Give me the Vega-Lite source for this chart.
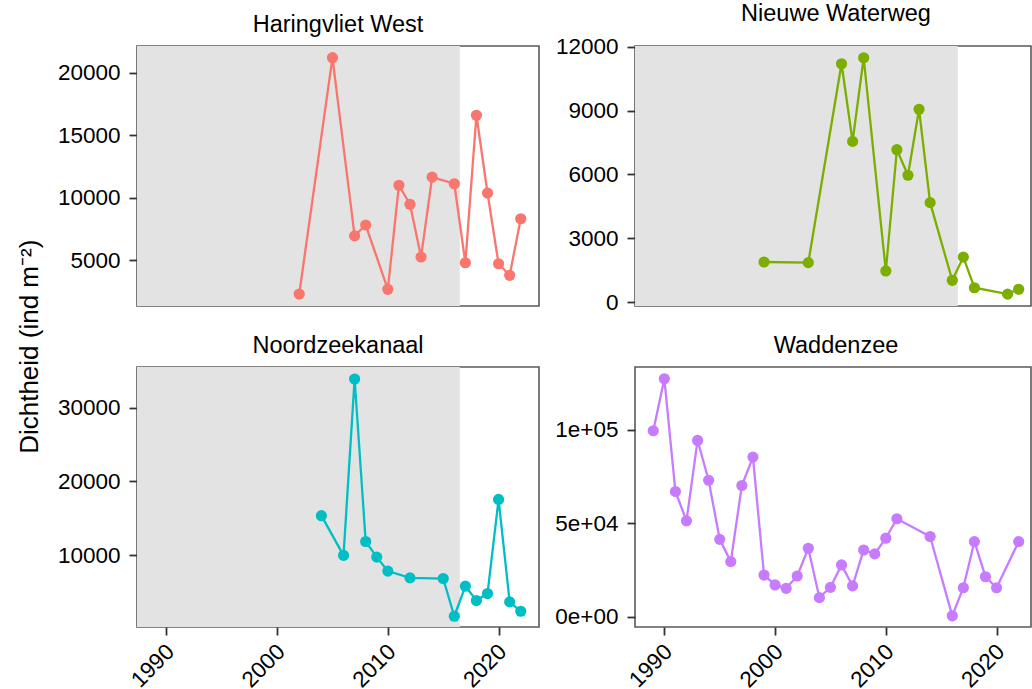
{
  "$schema": "https://vega.github.io/schema/vega-lite/v6.json",
  "background": "white",
  "padding": {"left": 16, "top": 1, "right": 0, "bottom": 0},
  "title": {"text": "Dichtheid (ind m⁻²)", "orient": "left", "anchor": "middle", "fontSize": 26, "font": "Liberation Sans", "fontWeight": "normal", "color": "black", "offset": 14},
  "datasets": {
    "shade": [
      {"site": "Haringvliet West", "from": 1987.35, "to": 2016.5},
      {"site": "Nieuwe Waterweg", "from": 1987.35, "to": 2016.5},
      {"site": "Noordzeekanaal", "from": 1987.35, "to": 2016.5}
    ],
    "obs": [
      {"site": "Haringvliet West", "year": 2002, "density": 2300},
      {"site": "Haringvliet West", "year": 2005, "density": 21200},
      {"site": "Haringvliet West", "year": 2007, "density": 6950},
      {"site": "Haringvliet West", "year": 2008, "density": 7820},
      {"site": "Haringvliet West", "year": 2010, "density": 2680},
      {"site": "Haringvliet West", "year": 2011, "density": 11000},
      {"site": "Haringvliet West", "year": 2012, "density": 9480},
      {"site": "Haringvliet West", "year": 2013, "density": 5260},
      {"site": "Haringvliet West", "year": 2014, "density": 11650},
      {"site": "Haringvliet West", "year": 2016, "density": 11120},
      {"site": "Haringvliet West", "year": 2017, "density": 4800},
      {"site": "Haringvliet West", "year": 2018, "density": 16600},
      {"site": "Haringvliet West", "year": 2019, "density": 10380},
      {"site": "Haringvliet West", "year": 2020, "density": 4720},
      {"site": "Haringvliet West", "year": 2021, "density": 3800},
      {"site": "Haringvliet West", "year": 2022, "density": 8320},
      {"site": "Nieuwe Waterweg", "year": 1999, "density": 1880},
      {"site": "Nieuwe Waterweg", "year": 2003, "density": 1850},
      {"site": "Nieuwe Waterweg", "year": 2006, "density": 11200},
      {"site": "Nieuwe Waterweg", "year": 2007, "density": 7550},
      {"site": "Nieuwe Waterweg", "year": 2008, "density": 11480},
      {"site": "Nieuwe Waterweg", "year": 2010, "density": 1460},
      {"site": "Nieuwe Waterweg", "year": 2011, "density": 7160},
      {"site": "Nieuwe Waterweg", "year": 2012, "density": 5960},
      {"site": "Nieuwe Waterweg", "year": 2013, "density": 9060},
      {"site": "Nieuwe Waterweg", "year": 2014, "density": 4670},
      {"site": "Nieuwe Waterweg", "year": 2016, "density": 1020},
      {"site": "Nieuwe Waterweg", "year": 2017, "density": 2110},
      {"site": "Nieuwe Waterweg", "year": 2018, "density": 670},
      {"site": "Nieuwe Waterweg", "year": 2021, "density": 370},
      {"site": "Nieuwe Waterweg", "year": 2022, "density": 600},
      {"site": "Noordzeekanaal", "year": 2004, "density": 15350},
      {"site": "Noordzeekanaal", "year": 2006, "density": 9960},
      {"site": "Noordzeekanaal", "year": 2007, "density": 33900},
      {"site": "Noordzeekanaal", "year": 2008, "density": 11850},
      {"site": "Noordzeekanaal", "year": 2009, "density": 9730},
      {"site": "Noordzeekanaal", "year": 2010, "density": 7830},
      {"site": "Noordzeekanaal", "year": 2012, "density": 6910},
      {"site": "Noordzeekanaal", "year": 2015, "density": 6820},
      {"site": "Noordzeekanaal", "year": 2016, "density": 1700},
      {"site": "Noordzeekanaal", "year": 2017, "density": 5780},
      {"site": "Noordzeekanaal", "year": 2018, "density": 3830},
      {"site": "Noordzeekanaal", "year": 2019, "density": 4780},
      {"site": "Noordzeekanaal", "year": 2020, "density": 17560},
      {"site": "Noordzeekanaal", "year": 2021, "density": 3650},
      {"site": "Noordzeekanaal", "year": 2022, "density": 2380},
      {"site": "Waddenzee", "year": 1989, "density": 99500},
      {"site": "Waddenzee", "year": 1990, "density": 127300},
      {"site": "Waddenzee", "year": 1991, "density": 67000},
      {"site": "Waddenzee", "year": 1992, "density": 51300},
      {"site": "Waddenzee", "year": 1993, "density": 94300},
      {"site": "Waddenzee", "year": 1994, "density": 73000},
      {"site": "Waddenzee", "year": 1995, "density": 41400},
      {"site": "Waddenzee", "year": 1996, "density": 29500},
      {"site": "Waddenzee", "year": 1997, "density": 70200},
      {"site": "Waddenzee", "year": 1998, "density": 85400},
      {"site": "Waddenzee", "year": 1999, "density": 22300},
      {"site": "Waddenzee", "year": 2000, "density": 17000},
      {"site": "Waddenzee", "year": 2001, "density": 15200},
      {"site": "Waddenzee", "year": 2002, "density": 21800},
      {"site": "Waddenzee", "year": 2003, "density": 36600},
      {"site": "Waddenzee", "year": 2004, "density": 10200},
      {"site": "Waddenzee", "year": 2005, "density": 15700},
      {"site": "Waddenzee", "year": 2006, "density": 27700},
      {"site": "Waddenzee", "year": 2007, "density": 16500},
      {"site": "Waddenzee", "year": 2008, "density": 35700},
      {"site": "Waddenzee", "year": 2009, "density": 33600},
      {"site": "Waddenzee", "year": 2010, "density": 42000},
      {"site": "Waddenzee", "year": 2011, "density": 52400},
      {"site": "Waddenzee", "year": 2014, "density": 42900},
      {"site": "Waddenzee", "year": 2016, "density": 500},
      {"site": "Waddenzee", "year": 2017, "density": 15500},
      {"site": "Waddenzee", "year": 2018, "density": 40200},
      {"site": "Waddenzee", "year": 2019, "density": 21400},
      {"site": "Waddenzee", "year": 2020, "density": 15500},
      {"site": "Waddenzee", "year": 2022, "density": 40200}
    ]
  },
  "columns": 2,
  "spacing": {"column": 96, "row": 61},
  "bounds": "flush",
  "concat": [
    {
      "width": 402, "height": 260,
      "title": "Haringvliet West",
      "layer": [
        {"data": {"name": "shade"}, "transform": [{"filter": "datum.site === 'Haringvliet West'"}],
         "mark": {"type": "rect", "color": "#E3E3E3"},
         "encoding": {"x": {"field": "from", "type": "quantitative", "scale": {"domain": [1987.35, 2023.65], "nice": false, "zero": false}, "axis": null}, "x2": {"field": "to"}}},
        {"data": {"name": "obs"}, "transform": [{"filter": "datum.site === 'Haringvliet West'"}],
         "mark": {"type": "line", "color": "#F8766D", "strokeWidth": 2.3},
         "encoding": {"x": {"field": "year", "type": "quantitative", "scale": {"domain": [1987.35, 2023.65], "nice": false, "zero": false}, "axis": null},
                      "y": {"field": "density", "type": "quantitative", "scale": {"domain": [1344, 22136], "nice": false, "zero": false}, "axis": {"values": [5000, 10000, 15000, 20000], "format": "d"}}}},
        {"data": {"name": "obs"}, "transform": [{"filter": "datum.site === 'Haringvliet West'"}],
         "mark": {"type": "point", "filled": true, "opacity": 1, "size": 125, "color": "#F8766D"},
         "encoding": {"x": {"field": "year", "type": "quantitative"}, "y": {"field": "density", "type": "quantitative"}}}
      ]
    },
    {
      "width": 396, "height": 260,
      "title": {"text": "Nieuwe Waterweg", "dx": 3},
      "layer": [
        {"data": {"name": "shade"}, "transform": [{"filter": "datum.site === 'Nieuwe Waterweg'"}],
         "mark": {"type": "rect", "color": "#E3E3E3"},
         "encoding": {"x": {"field": "from", "type": "quantitative", "scale": {"domain": [1987.35, 2023.11], "nice": false, "zero": false}, "axis": null}, "x2": {"field": "to"}}},
        {"data": {"name": "obs"}, "transform": [{"filter": "datum.site === 'Nieuwe Waterweg'"}],
         "mark": {"type": "line", "color": "#7CAE00", "strokeWidth": 2.3},
         "encoding": {"x": {"field": "year", "type": "quantitative", "scale": {"domain": [1987.35, 2023.11], "nice": false, "zero": false}, "axis": null},
                      "y": {"field": "density", "type": "quantitative", "scale": {"domain": [-188, 12035], "nice": false, "zero": false}, "axis": {"values": [0, 3000, 6000, 9000, 12000], "format": "d"}}}},
        {"data": {"name": "obs"}, "transform": [{"filter": "datum.site === 'Nieuwe Waterweg'"}],
         "mark": {"type": "point", "filled": true, "opacity": 1, "size": 125, "color": "#7CAE00"},
         "encoding": {"x": {"field": "year", "type": "quantitative"}, "y": {"field": "density", "type": "quantitative"}}}
      ]
    },
    {
      "width": 402, "height": 260,
      "title": "Noordzeekanaal",
      "layer": [
        {"data": {"name": "shade"}, "transform": [{"filter": "datum.site === 'Noordzeekanaal'"}],
         "mark": {"type": "rect", "color": "#E3E3E3"},
         "encoding": {"x": {"field": "from", "type": "quantitative", "scale": {"domain": [1987.35, 2023.65], "nice": false, "zero": false}}, "x2": {"field": "to"}}},
        {"data": {"name": "obs"}, "transform": [{"filter": "datum.site === 'Noordzeekanaal'"}],
         "mark": {"type": "line", "color": "#00BFC4", "strokeWidth": 2.3},
         "encoding": {"x": {"field": "year", "type": "quantitative", "scale": {"domain": [1987.35, 2023.65], "nice": false, "zero": false}, "axis": {"values": [1990, 2000, 2010, 2020], "format": "d", "labelAngle": -45, "labelPadding": 5, "labelOffset": -4}},
                      "y": {"field": "density", "type": "quantitative", "scale": {"domain": [244, 35524], "nice": false, "zero": false}, "axis": {"values": [10000, 20000, 30000], "format": "d"}}}},
        {"data": {"name": "obs"}, "transform": [{"filter": "datum.site === 'Noordzeekanaal'"}],
         "mark": {"type": "point", "filled": true, "opacity": 1, "size": 125, "color": "#00BFC4"},
         "encoding": {"x": {"field": "year", "type": "quantitative"}, "y": {"field": "density", "type": "quantitative"}}}
      ]
    },
    {
      "width": 396, "height": 260,
      "title": {"text": "Waddenzee", "dx": 3},
      "layer": [
        {"data": {"name": "obs"}, "transform": [{"filter": "datum.site === 'Waddenzee'"}],
         "mark": {"type": "line", "color": "#C77CFF", "strokeWidth": 2.3},
         "encoding": {"x": {"field": "year", "type": "quantitative", "scale": {"domain": [1987.35, 2023.11], "nice": false, "zero": false}, "axis": {"values": [1990, 2000, 2010, 2020], "format": "d", "labelAngle": -45, "labelPadding": 5, "labelOffset": -4}},
                      "y": {"field": "density", "type": "quantitative", "scale": {"domain": [-5500, 133600], "nice": false, "zero": false}, "axis": {"values": [0, 50000, 100000], "labelExpr": "datum.value == 0 ? '0e+00' : datum.value == 50000 ? '5e+04' : '1e+05'"}}}},
        {"data": {"name": "obs"}, "transform": [{"filter": "datum.site === 'Waddenzee'"}],
         "mark": {"type": "point", "filled": true, "opacity": 1, "size": 125, "color": "#C77CFF"},
         "encoding": {"x": {"field": "year", "type": "quantitative"}, "y": {"field": "density", "type": "quantitative"}}}
      ]
    }
  ],
  "config": {
    "font": "Liberation Sans",
    "view": {"stroke": "#595959", "strokeWidth": 1.6},
    "axis": {"domain": false, "grid": false, "ticks": true, "tickColor": "#333333", "tickWidth": 1.8, "tickSize": 8, "labelFont": "Liberation Sans", "labelFontSize": 22.5, "labelColor": "black", "labelPadding": 9, "title": null},
    "title": {"font": "Liberation Sans", "fontSize": 23.5, "fontWeight": "normal", "color": "black", "offset": 10}
  }
}
